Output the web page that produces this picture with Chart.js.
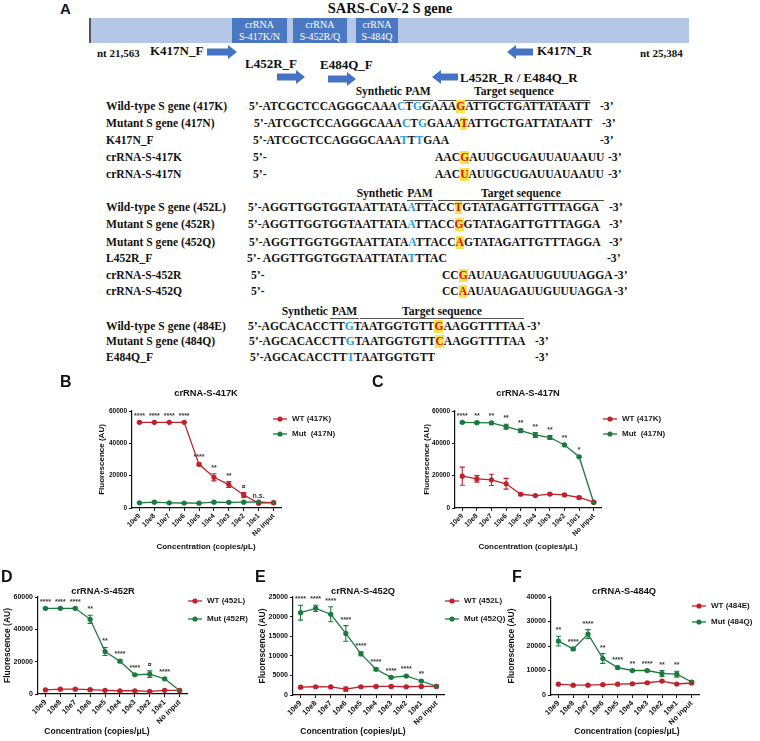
<!DOCTYPE html>
<html><head><meta charset="utf-8">
<script src="https://cdn.jsdelivr.net/npm/chart.js@4.4.1/dist/chart.umd.min.js"></script>
<style>
html,body{margin:0;padding:0;background:#fff;}
#wrap{position:relative;width:760px;height:741px;overflow:hidden;background:#fff;}
canvas.ch{position:absolute;left:0;top:0;}
.t{position:absolute;white-space:nowrap;font-family:"Liberation Serif","Times New Roman",serif;font-weight:bold;font-size:11.6px;line-height:14px;color:#111;transform:translateY(-50%);}
.b{color:#1f9ee0}
.m{color:#e3131b;background:#f2e64a}
.ln{position:absolute;height:0;border-top:1.5px solid #555;}
.box{position:absolute;background:#4a78c2;color:#fff;font-family:"Liberation Serif",serif;font-size:10px;line-height:12px;text-align:center;padding-top:1px;box-sizing:border-box;}
.sans{font-family:"Liberation Sans",Arial,sans-serif;}
</style></head>
<body><div id="wrap">
<div class="t sans" style="left:60px;top:9px;font-size:15px;">A</div>
<div class="t" style="left:390px;top:8px;font-size:14.5px;transform:translate(-50%,-50%);">SARS-CoV-2 S gene</div>
<div style="position:absolute;left:89px;top:18px;width:600px;height:25px;background:#b4c7e7;border-left:2px solid #555;box-sizing:border-box;"></div>
<div class="box" style="left:232px;top:18px;width:55px;height:25px;">crRNA<br>S-417K/N</div>
<div class="box" style="left:293px;top:18px;width:54px;height:25px;">crRNA<br>S-452R/Q</div>
<div class="box" style="left:356px;top:18px;width:42px;height:25px;">crRNA<br>S-484Q</div>
<svg width="760" height="100" style="position:absolute;left:0;top:0;">
<polygon fill="#4472c4" points="207,48.5 228,48.5 228,45 237,52 228,59 228,55.5 207,55.5"/>
<polygon fill="#4472c4" points="277,73.5 296,73.5 296,70 305,77 296,84 296,80.5 277,80.5"/>
<polygon fill="#4472c4" points="328,75.5 347,75.5 347,72 356,79 347,86 347,82.5 328,82.5"/>
<polygon fill="#4472c4" points="533,48.5 516,48.5 516,45 507,52 516,59 516,55.5 533,55.5"/>
<polygon fill="#4472c4" points="458,73.5 441,73.5 441,70 432,77 441,84 441,80.5 458,80.5"/>
</svg>
<div class="t" style="left:97px;top:53px;font-size:11px;">nt 21,563</div>
<div class="t" style="left:150px;top:51px;font-size:13px;">K417N_F</div>
<div class="t" style="left:245px;top:64px;font-size:13px;">L452R_F</div>
<div class="t" style="left:320px;top:65px;font-size:13px;">E484Q_F</div>
<div class="t" style="left:537px;top:51px;font-size:13px;">K417N_R</div>
<div class="t" style="left:460px;top:78px;font-size:13px;">L452R_R / E484Q_R</div>
<div class="t" style="left:640px;top:53px;font-size:11px;">nt 25,384</div>
<div id="seq"></div>
</div>
<script>
// ---------------- data ----------------
const categories = ['10e9','10e8','10e7','10e6','10e5','10e4','10e3','10e2','10e1','No input'];

// Panel B : crRNA-S-417K
const B_wt417K     = [53000,53000,53000,53000,27000,19000,14500,8000,3000,3400];
const B_wt417K_err = [300,300,300,300,800,2200,1800,1500,400,600];
const B_mut417N     = [3200,3600,3200,3100,3000,3600,3500,3600,3700,3200];
const B_mut417N_err = [300,300,300,300,300,300,300,300,300,300];
const B_sig = ['****','****','****','****','****','**','**','¤','n.s.',''];

// Panel C : crRNA-S-417N
const C_wt417K     = [19700,18000,17400,15000,8500,7700,8600,8100,6500,3700];
const C_wt417K_err = [5600,2000,3500,3300,600,400,500,500,800,300];
const C_mut417N     = [53000,52800,52600,50300,47800,45200,43600,39000,31700,3400];
const C_mut417N_err = [500,500,600,1500,1000,1500,1200,500,500,300];
const C_sig = ['****','**','**','**','**','**','**','**','*',''];

// Panel D : crRNA-S-452R
const D_wt452L     = [2500,3000,3000,2700,2300,2000,2000,1600,2300,2200];
const D_wt452L_err = [300,300,300,300,300,300,300,300,300,300];
const D_mut452R     = [53000,53000,53000,46200,26300,20300,11900,12300,9400,2100];
const D_mut452R_err = [500,500,500,2500,2500,800,400,2000,500,300];
const D_sig = ['****','****','****','**','**','****','****','¤','****',''];

// Panel E : crRNA-S-452Q
const E_wt452L     = [2000,2100,2050,1500,2100,2200,2200,2100,2200,2200];
const E_wt452L_err = [200,200,200,500,200,200,200,200,200,200];
const E_mut452Q     = [21000,22100,20600,15700,10500,6550,4500,4850,3570,2200];
const E_mut452Q_err = [1900,800,1900,2000,500,300,200,200,200,200];
const E_sig = ['****','****','****','****','****','****','****','****','**',''];

// Panel F : crRNA-S-484Q
const F_wt484E     = [4400,4000,4000,4200,4400,4600,5000,5700,4500,4900];
const F_wt484E_err = [300,300,300,300,300,300,300,300,300,300];
const F_mut484Q     = [22000,18800,24900,14900,11200,10000,10000,8800,8500,5300];
const F_mut484Q_err = [2000,400,1800,2000,500,400,400,1200,1200,400];
const F_sig = ['**','****','****','**','****','**','****','**','**',''];

// ---------------- panel A sequences ----------------
const seqRows = [
 {y:92, hdr:true, syn:402, pam:[403,433], tgt:[438,590], ly:100},
 {y:107, label:'Wild-type S gene (417K)', x:249, segs:[['5’-ATCGCTCCAGGGCAAA'],['C','b'],['T'],['G','b'],['GAAA'],['G','m'],['ATTGCTGATTATAATT']], end:600},
 {y:124, label:'Mutant S gene (417N)', x:254, segs:[['5’-ATCGCTCCAGGGCAAA'],['C','b'],['T'],['G','b'],['GAAA'],['T','m'],['ATTGCTGATTATAATT']], end:602},
 {y:141, label:'K417N_F', x:253, segs:[['5’-ATCGCTCCAGGGCAAA'],['T','b'],['T'],['T','b'],['GAA']], end:600},
 {y:158, label:'crRNA-S-417K', x:253, segs:[['5’-']], x2:435, segs2:[['AAC'],['G','m'],['AUUGCUGAUUAUAAUU']], end:608},
 {y:175, label:'crRNA-S-417N', x:253, segs:[['5’-']], x2:435, segs2:[['AAC'],['U','m'],['AUUGCUGAUUAUAAUU']], end:608},
 {y:194, hdr:true, syn:403, pam:[407,433], tgt:[438,604], ly:200},
 {y:208, label:'Wild-type S gene (452L)', x:248, segs:[['5’-AGGTTGGTGGTAATTATA'],['A','b'],['TTACC'],['T','m'],['GTATAGATTGTTTAGGA']], end:609},
 {y:225, label:'Mutant S gene (452R)', x:248, segs:[['5’-AGGTTGGTGGTAATTATA'],['A','b'],['TTACC'],['G','m'],['GTATAGATTGTTTAGGA']], end:609},
 {y:243, label:'Mutant S gene (452Q)', x:249, segs:[['5’-AGGTTGGTGGTAATTATA'],['A','b'],['TTACC'],['A','m'],['GTATAGATTGTTTAGGA']], end:609},
 {y:259, label:'L452R_F', x:247, segs:[['5’- AGGTTGGTGGTAATTATA'],['T','b'],['TTAC']], end:607},
 {y:276, label:'crRNA-S-452R', x:251, segs:[['5’-']], x2:442, segs2:[['CC'],['G','m'],['AUAUAGAUUGUUUAGGA']], end:614},
 {y:292, label:'crRNA-S-452Q', x:251, segs:[['5’-']], x2:442, segs2:[['CC'],['A','m'],['AUAUAGAUUGUUUAGGA']], end:614},
 {y:312, hdr:true, syn:328, pam:[330,359], tgt:[360,524], ly:318},
 {y:327, label:'Wild-type S gene (484E)', x:248, segs:[['5’-AGCACACCTT'],['G','b'],['TAATGGTGTT'],['G','m'],['AAGGTTTTAA']], end:527},
 {y:342, label:'Mutant S gene (484Q)', x:249, segs:[['5’-AGCACACCTT'],['G','b'],['TAATGGTGTT'],['C','m'],['AAGGTTTTAA']], end:535},
 {y:358, label:'E484Q_F', x:250, segs:[['5’-AGCACACCTT'],['T','b'],['TAATGGTGTT']], end:535}
];
(function buildSeq(){
  const host = document.getElementById('seq');
  const esc = s => s.replace(/&/g,'&amp;').replace(/</g,'&lt;');
  const segHtml = segs => segs.map(s => s[1] ? `<span class="${s[1]}">${esc(s[0])}</span>` : esc(s[0])).join('');
  let h = '';
  for (const r of seqRows) {
    if (r.hdr) {
      h += `<div class="t" style="left:${r.syn}px;top:${r.y}px;transform:translate(-100%,-50%);">Synthetic</div>`;
      h += `<div class="t" style="left:${(r.pam[0]+r.pam[1])/2}px;top:${r.y}px;transform:translate(-50%,-50%);">PAM</div>`;
      h += `<div class="t" style="left:${(r.tgt[0]+r.tgt[1])/2}px;top:${r.y}px;transform:translate(-50%,-50%);">Target sequence</div>`;
      h += `<div class="ln" style="left:${r.pam[0]}px;top:${r.ly}px;width:${r.pam[1]-r.pam[0]}px;"></div>`;
      h += `<div class="ln" style="left:${r.tgt[0]}px;top:${r.ly}px;width:${r.tgt[1]-r.tgt[0]}px;"></div>`;
      continue;
    }
    h += `<div class="t" style="left:106px;top:${r.y}px;">${esc(r.label)}</div>`;
    h += `<div class="t" style="left:${r.x}px;top:${r.y}px;">${segHtml(r.segs)}</div>`;
    if (r.segs2) h += `<div class="t" style="left:${r.x2}px;top:${r.y}px;">${segHtml(r.segs2)}</div>`;
    h += `<div class="t" style="left:${r.end}px;top:${r.y}px;">-3’</div>`;
  }
  host.innerHTML = h;
})();

// ---------------- charts ----------------
const SANS = '"Liberation Sans", Arial, sans-serif';
const RED = '#c0222c', GREEN = '#1b7a3c';
const wrap = document.getElementById('wrap');

function makeChart(cfg) {
  const cv = document.createElement('canvas');
  cv.width = 760; cv.height = 741; cv.className = 'ch';
  wrap.appendChild(cv);
  const A = cfg.area, YW = 30, XH = 40;
  const deco = {
    id: 'deco' + cfg.letter,
    afterDatasetsDraw(chart) {
      const ctx = chart.ctx, ys = chart.scales.y;
      ctx.save();
      // error bars
      chart.data.datasets.forEach((ds, i) => {
        const meta = chart.getDatasetMeta(i);
        ctx.strokeStyle = ds.borderColor; ctx.lineWidth = 1.1;
        ds.data.forEach((v, j) => {
          const e = ds.err[j], x = meta.data[j].x;
          const y1 = ys.getPixelForValue(v + e), y2 = ys.getPixelForValue(v - e);
          ctx.beginPath();
          ctx.moveTo(x, y1); ctx.lineTo(x, y2);
          ctx.moveTo(x - 2.6, y1); ctx.lineTo(x + 2.6, y1);
          ctx.moveTo(x - 2.6, y2); ctx.lineTo(x + 2.6, y2);
          ctx.stroke();
        });
      });
      // significance marks
      ctx.fillStyle = '#3a3a3a';
      ctx.font = `bold ${cfg.sigSize}px ${SANS}`;
      ctx.textAlign = 'center'; ctx.textBaseline = 'alphabetic';
      cfg.sig.forEach((s, j) => {
        if (!s) return;
        let top = Infinity, x = 0;
        chart.data.datasets.forEach((ds, i) => {
          const p = ys.getPixelForValue(ds.data[j] + ds.err[j]);
          if (p < top) top = p;
          x = chart.getDatasetMeta(i).data[j].x;
        });
        ctx.fillText(s, x, top - 4);
      });
      ctx.restore();
    },
    afterDraw(chart) {
      const ctx = chart.ctx, ca = chart.chartArea;
      ctx.save();
      ctx.fillStyle = '#111';
      // panel letter
      ctx.font = `bold 16px ${SANS}`; ctx.textAlign = 'left'; ctx.textBaseline = 'middle';
      ctx.fillText(cfg.letter, cfg.letterPos[0], cfg.letterPos[1]);
      // title
      ctx.font = `bold 9.3px ${SANS}`; ctx.textAlign = 'center';
      ctx.fillText(cfg.title, cfg.titlePos[0], cfg.titlePos[1]);
      // axis titles
      ctx.font = `bold ${cfg.axTitleSize}px ${SANS}`;
      ctx.fillText('Concentration (copies/μL)', cfg.xTitlePos[0], cfg.xTitlePos[1]);
      ctx.save();
      ctx.translate(cfg.yTitleX, (ca.top + ca.bottom) / 2);
      ctx.rotate(-Math.PI / 2);
      ctx.fillText('Fluorescence (AU)', 0, 0);
      ctx.restore();
      // legend
      ctx.font = `bold 8px ${SANS}`; ctx.textAlign = 'left';
      chart.data.datasets.forEach((ds, i) => {
        const lx = cfg.legend[0], ly = cfg.legend[1] + i * cfg.legend[2];
        ctx.strokeStyle = ds.borderColor; ctx.lineWidth = 1.3;
        ctx.beginPath(); ctx.moveTo(lx, ly); ctx.lineTo(lx + 14, ly); ctx.stroke();
        ctx.fillStyle = ds.borderColor;
        ctx.beginPath(); ctx.arc(lx + 7, ly, 2.6, 0, Math.PI * 2); ctx.fill();
        ctx.fillStyle = '#1a1a1a';
        ctx.fillText(ds.label, lx + 19, ly);
      });
      ctx.restore();
    }
  };
  new Chart(cv.getContext('2d'), {
    type: 'line',
    data: {
      labels: categories,
      datasets: cfg.series.map(s => ({
        label: s.label, data: s.values, err: s.err,
        borderColor: s.color, backgroundColor: s.color,
        pointRadius: 2.6, pointHoverRadius: 2.6, pointBorderWidth: 0,
        borderWidth: 1.3, tension: 0, fill: false, clip: false
      }))
    },
    options: {
      responsive: false, animation: false, events: [],
      layout: { padding: { left: A.l - YW, right: 760 - A.r, top: A.t, bottom: 741 - A.b - XH } },
      plugins: { legend: { display: false }, tooltip: { enabled: false } },
      scales: {
        x: {
          type: 'category', offset: true,
          grid: { display: true, drawOnChartArea: false, drawTicks: true, tickLength: 3, offset: false, color: '#111', lineWidth: 1 },
          border: { display: true, color: '#111', width: 1.2 },
          ticks: { minRotation: 45, maxRotation: 45, autoSkip: false, padding: 1, color: '#111',
                   font: { family: SANS, weight: 'bold', size: cfg.xTick } },
          afterFit: s => { s.height = XH; }
        },
        y: {
          min: 0, max: cfg.yMax,
          grid: { display: true, drawOnChartArea: false, drawTicks: true, tickLength: 3, color: '#111', lineWidth: 1 },
          border: { display: true, color: '#111', width: 1.2 },
          ticks: { stepSize: cfg.yStep, padding: 2, color: '#111', callback: v => String(v),
                   font: { family: SANS, weight: 'bold', size: cfg.yTick } },
          afterFit: s => { s.width = YW; }
        }
      }
    },
    plugins: [deco]
  });
}

makeChart({letter:'B', letterPos:[60,383], title:'crRNA-S-417K', titlePos:[206,393],
  area:{l:132,r:281,t:411,b:508}, yMax:60000, yStep:20000, xTick:7, yTick:6.5, sigSize:7, axTitleSize:8,
  xTitlePos:[206,547], yTitleX:102, legend:[273,419,15], sig:B_sig,
  series:[{label:'WT (417K)', values:B_wt417K, err:B_wt417K_err, color:RED},
          {label:'Mut  (417N)', values:B_mut417N, err:B_mut417N_err, color:GREEN}]});

makeChart({letter:'C', letterPos:[372,383], title:'crRNA-S-417N', titlePos:[528,393],
  area:{l:455,r:601,t:411,b:508}, yMax:60000, yStep:20000, xTick:7, yTick:6.5, sigSize:7, axTitleSize:8,
  xTitlePos:[528,547], yTitleX:427, legend:[603,419,15], sig:C_sig,
  series:[{label:'WT (417K)', values:C_wt417K, err:C_wt417K_err, color:RED},
          {label:'Mut  (417N)', values:C_mut417N, err:C_mut417N_err, color:GREEN}]});

makeChart({letter:'D', letterPos:[1,578], title:'crRNA-S-452R', titlePos:[103,591],
  area:{l:38,r:187,t:597,b:694}, yMax:60000, yStep:20000, xTick:7.5, yTick:7, sigSize:7, axTitleSize:8.5,
  xTitlePos:[97,732], yTitleX:8, legend:[188,601,18], sig:D_sig,
  series:[{label:'WT (452L)', values:D_wt452L, err:D_wt452L_err, color:RED},
          {label:'Mut (452R)', values:D_mut452R, err:D_mut452R_err, color:GREEN}]});

makeChart({letter:'E', letterPos:[255,578], title:'crRNA-S-452Q', titlePos:[363,591],
  area:{l:293,r:444,t:597,b:695}, yMax:25000, yStep:5000, xTick:7.5, yTick:7, sigSize:7, axTitleSize:8.5,
  xTitlePos:[353,732], yTitleX:263, legend:[445,601,18], sig:E_sig,
  series:[{label:'WT (452L)', values:E_wt452L, err:E_wt452L_err, color:RED},
          {label:'Mut (452Q)', values:E_mut452Q, err:E_mut452Q_err, color:GREEN}]});

makeChart({letter:'F', letterPos:[512,578], title:'crRNA-S-484Q', titlePos:[624,591],
  area:{l:551,r:699,t:597,b:695}, yMax:40000, yStep:10000, xTick:7.5, yTick:7, sigSize:7, axTitleSize:8.5,
  xTitlePos:[627,732], yTitleX:512, legend:[692,606,16], sig:F_sig,
  series:[{label:'WT (484E)', values:F_wt484E, err:F_wt484E_err, color:RED},
          {label:'Mut (484Q)', values:F_mut484Q, err:F_mut484Q_err, color:GREEN}]});
</script>
</body></html>
